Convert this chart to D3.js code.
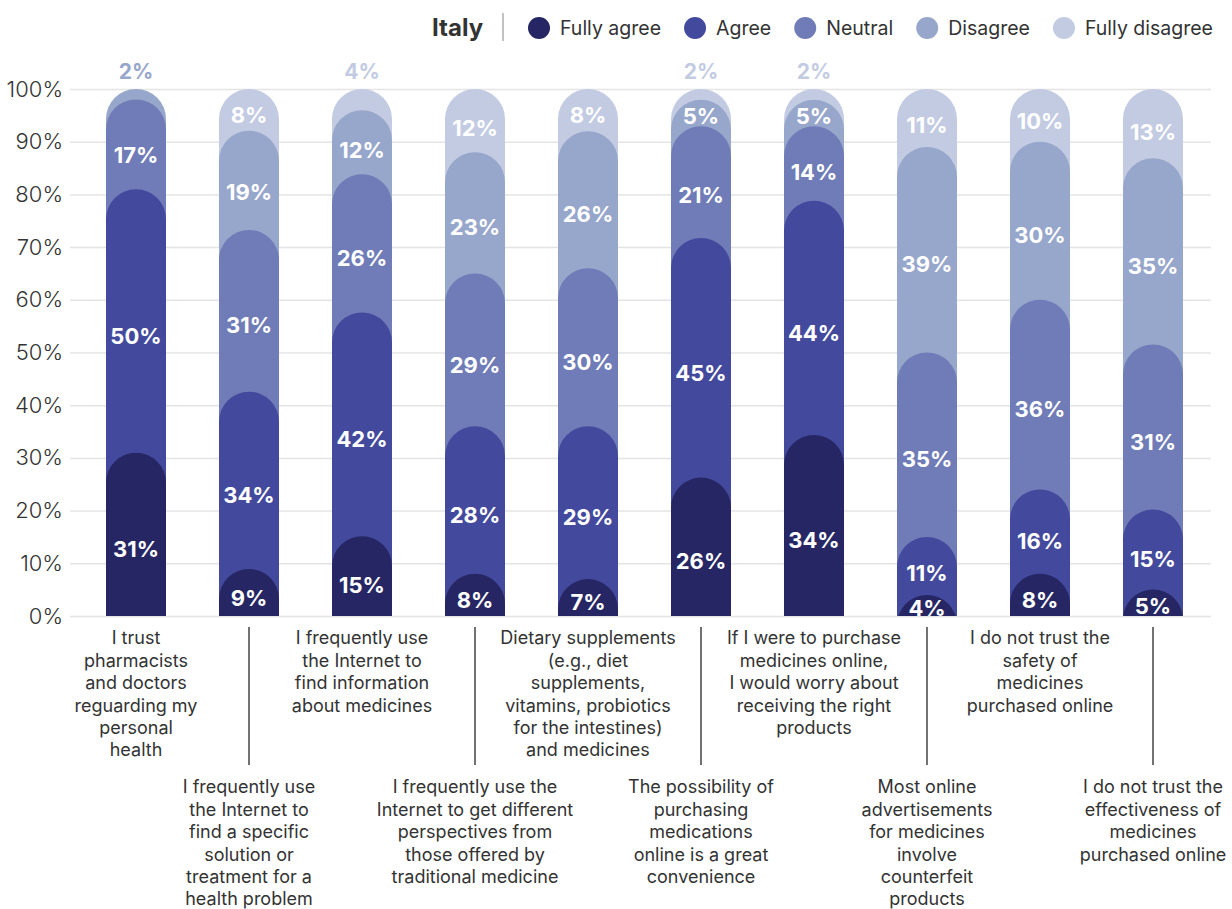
<!DOCTYPE html>
<html>
<head>
<meta charset="utf-8">
<script src="https://cdn.jsdelivr.net/npm/d3@7"></script>
<style>
  body { margin: 0; background: #fff; }
  text { font-family: Inter, "Noto Sans", sans-serif; }
</style>
</head>
<body>
<div class="chart"></div>
<script>
// Data (percent of respondents, Italy)
var country = "Italy";
var seriesNames = ["Fully agree", "Agree", "Neutral", "Disagree", "Fully disagree"];
var seriesColors = ["#262664", "#434a9d", "#6f7cb7", "#97a6cb", "#c3cbe2"];

var statements = [
  ["I trust", "pharmacists", "and doctors", "reguarding my", "personal", "health"],
  ["I frequently use", "the Internet to", "find a specific", "solution or", "treatment for a", "health problem"],
  ["I frequently use", "the Internet to", "find information", "about medicines"],
  ["I frequently use the", "Internet to get different", "perspectives from", "those offered by", "traditional medicine"],
  ["Dietary supplements", "(e.g., diet", "supplements,", "vitamins, probiotics", "for the intestines)", "and medicines"],
  ["The possibility of", "purchasing", "medications", "online is a great", "convenience"],
  ["If I were to purchase", "medicines online,", "I would worry about", "receiving the right", "products"],
  ["Most online", "advertisements", "for medicines", "involve", "counterfeit", "products"],
  ["I do not trust the", "safety of", "medicines", "purchased online"],
  ["I do not trust the", "effectiveness of", "medicines", "purchased online"]
];

var fullyAgree    = [31,  9, 15,  8,  7, 26, 34,  4,  8,  5];
var agree         = [50, 34, 42, 28, 29, 45, 44, 11, 16, 15];
var neutral       = [17, 31, 26, 29, 30, 21, 14, 35, 36, 31];
var disagree      = [ 2, 19, 12, 23, 26,  5,  5, 39, 30, 35];
var fullyDisagree = [ 0,  8,  4, 12,  8,  2,  2, 11, 10, 13];

var yTicks = [0, 0.1, 0.2, 0.3, 0.4, 0.5, 0.6, 0.7, 0.8, 0.9, 1];

// Chart params
var width = 1232,
  height = 909,
  plotLeft = 70,
  plotRight = 1211,
  plotTop = 89,
  plotBottom = 616,
  barWidth = 60,
  radius = barWidth / 2,
  lineHeight = 22.4,
  textColor = "#333";

var rows = statements.map(function(s, i) {
  return {
    index: i,
    "Fully agree": fullyAgree[i],
    "Agree": agree[i],
    "Neutral": neutral[i],
    "Disagree": disagree[i],
    "Fully disagree": fullyDisagree[i]
  };
});

// 100% stack
var stack = d3.stack()
  .keys(seriesNames)
  .offset(d3.stackOffsetExpand);
var layers = stack(rows);

var x = d3.scaleBand()
  .domain(d3.range(statements.length))
  .range([79.5, 1209.5])
  .paddingInner(0.469)
  .paddingOuter(0.2345);

var y = d3.scaleLinear()
  .domain([0, 1])
  .range([plotBottom, plotTop]);

var color = d3.scaleOrdinal()
  .domain(seriesNames)
  .range(seriesColors);

var svg = d3.select(".chart").append("svg")
  .attr("width", width)
  .attr("height", height);

svg.append("defs").append("clipPath")
    .attr("id", "plot-clip")
  .append("rect")
    .attr("x", 0)
    .attr("y", 0)
    .attr("width", width)
    .attr("height", plotBottom);

// Gridlines + y labels
var yAxis = svg.append("g")
  .attr("transform", "translate(" + plotLeft + ",0)")
  .call(d3.axisLeft(y)
    .tickValues(yTicks)
    .tickFormat(d3.format(".0%"))
    .tickSize(-(plotRight - plotLeft))
    .tickPadding(7));
yAxis.select(".domain").remove();
yAxis.selectAll(".tick line")
  .attr("stroke", "#e4e4e4")
  .attr("stroke-width", 1.5);
yAxis.selectAll(".tick text")
  .attr("fill", textColor)
  .style("font-size", "22px")
  .style("font-weight", 300);

// Bars: each segment is a rounded-top column from the baseline up to its
// cumulative top; lower series are drawn later so they sit on top.
function segmentPath(i, top) {
  var x0 = x(i), x1 = x(i) + barWidth;
  var yt = y(top);
  var ya = yt + radius;
  var yb = Math.max(plotBottom, ya);
  return "M" + x0 + "," + yb +
    "L" + x0 + "," + ya +
    "A" + radius + "," + radius + " 0 0 1 " + x1 + "," + ya +
    "L" + x1 + "," + yb + "Z";
}

var barsG = svg.append("g").attr("clip-path", "url(#plot-clip)");
layers.slice().reverse().forEach(function(layer) {
  barsG.append("g")
    .selectAll("path")
      .data(layer.filter(function(d) { return d[1] - d[0] > 0; }))
    .enter().append("path")
      .attr("d", function(d) { return segmentPath(d.data.index, d[1]); })
      .attr("fill", color(layer.key));
});

// Value labels
var labelsG = svg.append("g");
layers.forEach(function(layer, k) {
  layer.forEach(function(d) {
    var v = d.data[layer.key];
    if (!v) return;
    var cx = x(d.data.index) + barWidth / 2;
    var isTop = layers.slice(k + 1).every(function(l) { return l[d.data.index].data[l.key] === 0; });
    if (isTop && v < 5) {
      labelsG.append("text")
        .attr("x", cx)
        .attr("y", y(1) - 17)
        .attr("dy", "0.35em")
        .attr("text-anchor", "middle")
        .attr("fill", color(layer.key))
        .style("font-size", "21px")
        .style("font-weight", 700)
        .text(v + "%");
      return;
    }
    var y0 = y(d[0]), y1 = y(d[1]);
    var h = y0 - y1;
    var shift = Math.min(radius / 2, h * 0.12);
    labelsG.append("text")
      .attr("x", cx)
      .attr("y", (y0 + y1) / 2 + shift)
      .attr("dy", "0.35em")
      .attr("text-anchor", "middle")
      .attr("fill", "#fff")
      .style("font-size", "22px")
      .style("font-weight", 700)
      .text(v + "%");
  });
});

// Category labels, alternating high/low
var catG = svg.append("g")
  .selectAll("g")
    .data(statements)
  .enter().append("g")
    .attr("transform", function(d, i) {
      return "translate(" + (x(i) + barWidth / 2) + ",0)";
    });

catG.filter(function(d, i) { return i % 2 === 1; })
  .append("line")
    .attr("y1", 627)
    .attr("y2", 765)
    .attr("stroke", "#444")
    .attr("stroke-width", 1.5);

catG.append("text")
    .attr("text-anchor", "middle")
    .attr("fill", textColor)
    .style("font-size", "18px")
    .style("font-weight", 400)
  .selectAll("tspan")
    .data(function(d, i) {
      return d.map(function(line, j) { return { line: line, j: j, low: i % 2 === 1 }; });
    })
  .enter().append("tspan")
    .attr("x", 0)
    .attr("y", function(t) { return (t.low ? 787 : 638) + t.j * lineHeight; })
    .attr("dy", "0.35em")
    .text(function(t) { return t.line; });

// Legend
var legend = svg.append("g");
legend.append("text")
  .attr("x", 432)
  .attr("y", 36)
  .attr("fill", textColor)
  .style("font-size", "24px")
  .style("font-weight", 700)
  .text(country);
legend.append("line")
  .attr("x1", 503).attr("x2", 503)
  .attr("y1", 13).attr("y2", 41)
  .attr("stroke", "#999")
  .attr("stroke-width", 1.2);

var cxPos = 539;
seriesNames.forEach(function(name) {
  legend.append("circle")
    .attr("cx", cxPos)
    .attr("cy", 28)
    .attr("r", 11)
    .attr("fill", color(name));
  var t = legend.append("text")
    .attr("x", cxPos + 21)
    .attr("y", 28)
    .attr("dy", "0.35em")
    .attr("fill", textColor)
    .style("font-size", "19.5px")
    .style("font-weight", 400)
    .text(name);
  cxPos = cxPos + 21 + t.node().getComputedTextLength() + 23 + 11;
});
</script>
</body>
</html>
